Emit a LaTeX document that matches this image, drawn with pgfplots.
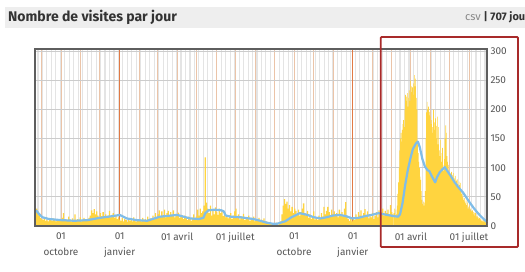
\documentclass[border=0pt]{standalone}
\usepackage{pgfplots}
\usepackage{pgfplotstable}
\pgfplotsset{compat=1.18}
\usepackage{fontspec}
\setmainfont{Fira Sans}
\definecolor{barcol}{HTML}{FFD43F}
\definecolor{linecol}{HTML}{80BDE8}
\definecolor{framecol}{HTML}{5E5E5E}
\definecolor{txtcol}{HTML}{555555}
\definecolor{monthcol}{HTML}{EBC4A8}
\definecolor{jancol}{HTML}{E07A45}
\definecolor{weekcol}{HTML}{E4E4E4}
\definecolor{hgridcol}{HTML}{CCCCCC}
\definecolor{boxred}{HTML}{A82A2A}
\definecolor{bandcol}{HTML}{EEEEEE}
\definecolor{titlecol}{HTML}{333333}
\definecolor{csvcol}{HTML}{888888}

% daily visits, first part sampled every 2 days (day 0 .. 560)
\pgfplotstableread{
v
30
25
18
14
12
10
13
9
11
8
12
10
9
13
11
8
10
12
9
11
14
22
10
12
9
16
11
8
13
10
20
9
12
10
15
8
11
14
9
12
10
14
18
27
22
29
20
25
18
15
22
17
24
16
20
14
18
26
15
19
22
14
17
12
15
11
9
14
8
12
10
7
13
9
11
8
15
10
7
12
9
11
8
14
10
12
9
16
11
13
10
18
12
22
14
20
27
16
25
18
28
15
22
26
17
24
19
27
15
21
18
23
14
19
16
12
18
14
10
16
12
9
14
20
11
16
28
18
30
22
25
35
118
40
30
22
35
18
28
20
32
24
19
30
22
26
17
21
15
18
13
16
22
12
18
25
30
14
20
11
17
13
21
10
15
12
18
9
14
11
16
8
12
10
14
7
11
9
13
6
8
4
6
3
5
2
4
3
6
2
5
8
20
35
46
38
42
30
36
25
33
22
30
26
20
28
18
24
30
39
22
18
26
14
20
12
16
25
11
14
10
18
13
22
16
33
20
26
33
24
18
28
20
25
17
22
15
28
20
24
16
30
41
18
12
9
14
8
12
10
20
15
24
18
27
14
22
29
16
25
13
19
15
22
12
18
24
15
27
20
23
30
18
26
22
28
19
36
24
20
22
}\visitsA

% daily visits, second part, one value per day (day 560 .. 707)
\pgfplotstableread{
v
22
30
15
28
20
35
55
75
100
130
150
160
145
165
175
182
170
200
225
215
222
228
205
220
233
215
250
240
230
238
225
245
259
240
253
220
200
140
125
110
100
85
79
60
45
38
42
35
40
60
150
195
213
200
205
190
196
188
175
182
170
160
200
178
165
185
150
172
188
140
170
130
120
148
110
125
134
105
95
115
150
173
160
120
110
105
95
90
91
85
93
80
88
91
75
82
86
70
78
80
72
68
76
70
74
60
55
50
58
45
48
42
39
44
36
40
30
33
35
28
30
25
27
27
20
24
18
22
22
17
15
18
15
12
14
10
12
9
11
8
10
7
9
7
6
8
5
5
}\visitsB

\begin{document}
\begin{tikzpicture}
\path[use as bounding box] (-35pt,-46pt) rectangle (490pt,226pt);
\fill[bandcol] (-30pt,198pt) rectangle (495pt,219pt);
\node[anchor=west, text=titlecol, font=\fontsize{14}{16}\selectfont\bfseries, inner sep=0pt] at (-27pt,208.5pt) {Nombre de visites par jour};
\node[anchor=west, inner sep=0pt, font=\fontsize{11}{13}\selectfont] at (430pt,208.5pt) {\textcolor{csvcol}{csv} \textcolor{titlecol}{\textbf{| 707 jours}}};
\begin{axis}[
  scale only axis, width=452pt, height=177pt,
  xmin=-1.7, xmax=706.2, ymin=0, ymax=304,
  axis line style={framecol, line width=1.5pt},
  tick style={draw=none},
  major tick length=0pt, minor tick length=0pt,
  xtick={9,39,70,100,131,162,190,221,251,282,312,343,374,404,435,465,496,527,556,587,617,648,678},
  xticklabels={,{01\\octobre},,,{01\\janvier},,,{01 avril},,,{01 juillet},,,{01\\octobre},,,{01\\janvier},,,{01 avril},,,{01 juillet}},
  xticklabel style={align=center, font=\fontsize{10}{16}\selectfont, text=txtcol, yshift=-3pt},
  xmajorgrids, major x grid style={monthcol, line width=0.9pt},
  minor xtick={3,10,...,703},
  xminorgrids, minor x grid style={weekcol, line width=1.1pt},
  ytick={0,50,...,300},
  yticklabel pos=right,
  ymajorgrids, major y grid style={hgridcol, line width=0.8pt},
  yticklabel style={font=\fontsize{10}{12}\selectfont, text=txtcol},
  /pgf/number format/assume math mode=true,
]
% year-start grid lines, stronger orange
\draw[jancol, line width=1.3pt] (axis cs:131,0) -- (axis cs:131,304);
\draw[jancol, line width=1.3pt] (axis cs:496,0) -- (axis cs:496,304);
\addplot[const plot, fill=barcol, draw=none] table[x expr=\coordindex*2, y=v] {\visitsA} \closedcycle;
\addplot[const plot, fill=barcol, draw=none] table[x expr=\coordindex+560, y=v] {\visitsB} \closedcycle;
\addplot[linecol, line width=2.2pt, line join=round] coordinates {
(0,27) (5,20) (10,15) (20,12) (40,10) (60,9) (80,10) (100,14) (120,17) (131,19) (142,13)
(158,10) (174,9) (194,16) (221,19) (241,13) (255,12) (262,14) (265,22) (270,27) (280,28)
(290,27) (294,25) (297,18) (305,16) (320,15) (340,12) (351,9) (360,6) (370,4) (378,4)
(390,8) (400,15) (413,22) (425,19) (435,15) (445,13) (455,15) (465,18) (476,19) (485,17)
(495,13) (505,14) (515,17) (525,19) (536,22) (550,19) (560,17) (567,16) (570,20) (574,40)
(578,70) (582,95) (586,115) (590,132) (595,142) (598,145) (601,135) (605,115) (609,102)
(613,96) (616,94) (620,85) (625,75) (628,84) (632,92) (636,97) (640,101) (645,93) (650,85)
(655,76) (661,67) (669,57) (675,47) (680,39) (686,30) (692,22) (699,14) (706,7)
};
\draw[framecol, line width=1.5pt] (rel axis cs:0,0) rectangle (rel axis cs:1,1);
\end{axis}
\draw[boxred, line width=1.8pt, rounded corners=1pt] (345.7pt,-21pt) rectangle (483pt,189pt);
\end{tikzpicture}
\end{document}
